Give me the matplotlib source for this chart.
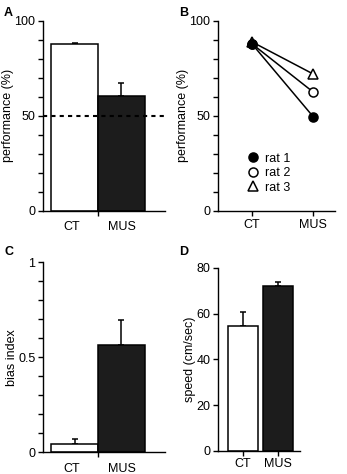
import matplotlib
matplotlib.use("Agg")
import matplotlib.pyplot as plt
from matplotlib.lines import Line2D
from matplotlib.ticker import MultipleLocator

plt.rcParams['font.family'] = ['Liberation Sans', 'DejaVu Sans']
plt.rcParams['font.size'] = 9

# data
groups = ["CT", "MUS"]
perf_mean = [88.0, 60.5]
perf_err = [0.6, 7.0]
rat_labels = ["rat 1", "rat 2", "rat 3"]
rat1 = [88.0, 49.5]
rat2 = [88.0, 62.5]
rat3 = [89.0, 72.0]
bias_mean = [0.045, 0.565]
bias_err = [0.022, 0.13]
speed_mean = [54.5, 72.0]
speed_err = [6.2, 1.8]

bar_colors = ["white", "#1c1c1c"]
LW = 1.1
FS = 9


def style(ax):
    for s in ["top", "right"]:
        ax.spines[s].set_visible(False)
    for s in ["left", "bottom"]:
        ax.spines[s].set_linewidth(1.0)
    ax.tick_params(which="both", width=1.0, length=3.5, labelsize=FS, pad=2)


def bars(ax, xs, means, errs, width):
    ax.bar(xs, means, width=width, color=bar_colors, edgecolor="black",
           linewidth=LW, zorder=2)
    for x, m, e in zip(xs, means, errs):
        ax.errorbar(x, m, yerr=[[0], [e]], fmt="none", ecolor="black",
                    elinewidth=LW, capsize=2.5, capthick=LW, zorder=1)


fig = plt.figure(figsize=(3.47, 4.74), dpi=100)

# A
axA = fig.add_axes([0.124, 0.555, 0.352, 0.401])
bars(axA, [0, 1], perf_mean, perf_err, 1.0)
axA.axhline(50, color="black", lw=1.5, ls=(0, (2, 2)), zorder=3)
axA.set_xlim(-0.67, 1.93)
axA.set_ylim(0, 100)
axA.set_yticks([0, 50, 100])
axA.yaxis.set_minor_locator(MultipleLocator(10))
axA.set_xticks([0.5])
axA.set_xticklabels([""])
for x, g in zip([-0.05, 1.02], groups):
    axA.text(x, -0.055, g, transform=axA.get_xaxis_transform(),
             ha="center", va="top", fontsize=FS)
axA.set_ylabel("performance (%)", fontsize=FS, labelpad=0)
style(axA)

# B
axB = fig.add_axes([0.628, 0.555, 0.337, 0.401])
xs = [0, 1]
for vals, m, fc in [(rat3, "^", "white"), (rat2, "o", "white"), (rat1, "o", "black")]:
    axB.plot(xs, vals, color="black", lw=1.1, marker=m, markersize=6.5,
             markerfacecolor=fc, markeredgecolor="black", markeredgewidth=1.1)
axB.set_xlim(-0.55, 1.35)
axB.set_ylim(0, 100)
axB.set_yticks([0, 50, 100])
axB.yaxis.set_minor_locator(MultipleLocator(10))
axB.set_xticks(xs)
axB.set_xticklabels(groups)
axB.set_ylabel("performance (%)", fontsize=FS, labelpad=0)
handles = [Line2D([], [], ls="none", marker="o", mfc="black", mec="black", ms=6.5, mew=1.1),
           Line2D([], [], ls="none", marker="o", mfc="white", mec="black", ms=6.5, mew=1.1),
           Line2D([], [], ls="none", marker="^", mfc="white", mec="black", ms=6.5, mew=1.1)]
axB.legend(handles, rat_labels, loc="lower left", bbox_to_anchor=(0.2, 0.065),
           frameon=False, fontsize=FS, handlelength=1.0, handletextpad=0.5,
           labelspacing=0.2, borderaxespad=0)
style(axB)

# C
axC = fig.add_axes([0.124, 0.046, 0.352, 0.401])
bars(axC, [0, 1], bias_mean, bias_err, 1.0)
axC.set_xlim(-0.67, 1.93)
axC.set_ylim(0, 1)
axC.set_yticks([0, 0.5, 1])
axC.set_yticklabels(["0", "0.5", "1"])
axC.yaxis.set_minor_locator(MultipleLocator(0.1))
axC.set_xticks([0.5])
axC.set_xticklabels([""])
for x, g in zip([-0.05, 1.02], groups):
    axC.text(x, -0.055, g, transform=axC.get_xaxis_transform(),
             ha="center", va="top", fontsize=FS)
axC.set_ylabel("bias index", fontsize=FS, labelpad=0)
style(axC)

# D
axD = fig.add_axes([0.628, 0.049, 0.236, 0.386])
bars(axD, [0, 1], speed_mean, speed_err, 0.86)
axD.set_xlim(-0.72, 1.62)
axD.set_ylim(0, 80)
axD.set_yticks([0, 20, 40, 60, 80])
axD.set_xticks([0, 1])
axD.set_xticklabels(groups)
axD.set_ylabel("speed (cm/sec)", fontsize=FS, labelpad=0)
style(axD)

for lbl, x, y in [("A", 0.012, 0.985), ("B", 0.515, 0.985), ("C", 0.012, 0.482), ("D", 0.515, 0.482)]:
    fig.text(x, y, lbl, fontsize=9, fontweight="bold", va="top", ha="left")

fig.savefig("out.png", dpi=100)
